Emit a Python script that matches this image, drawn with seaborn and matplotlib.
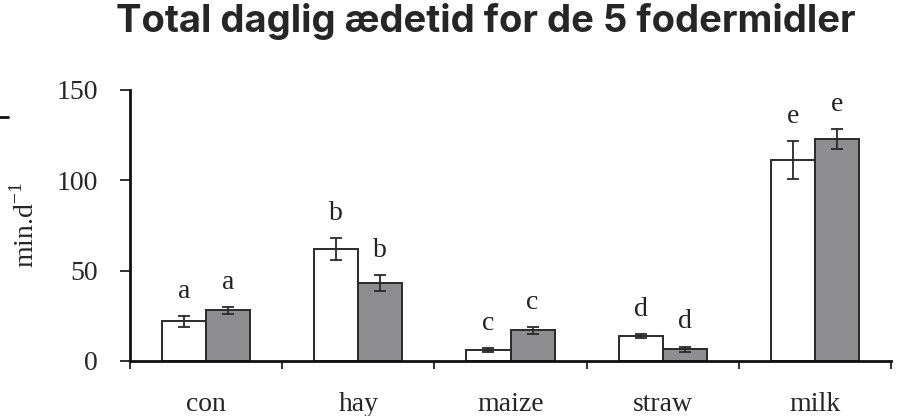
import matplotlib
matplotlib.use("Agg")
import matplotlib.pyplot as plt
import seaborn as sns
import pandas as pd
import numpy as np

categories = ["con", "hay", "maize", "straw", "milk"]
groups = ["A", "B"]
values_a = [22, 62, 6, 14, 111]
values_b = [28, 43, 17, 6.5, 123]
err_a = [3, 6, 1, 1, 10.5]
err_b = [2, 4.5, 2, 1.5, 5.5]
letters = ["a", "b", "c", "d", "e"]
yticks = [0, 50, 100, 150]

sns.set_style("white")
serif = ["Liberation Serif", "DejaVu Serif"]

df = pd.DataFrame({
    "cat": categories * 2,
    "grp": [groups[0]] * 5 + [groups[1]] * 5,
    "val": values_a + values_b,
    "err": err_a + err_b,
})

fig = plt.figure(figsize=(9.02, 4.16), dpi=100)
ax = fig.add_axes([130/902, 1-361/416, (891-130)/902, (361-90)/416])

sns.barplot(data=df, x="cat", y="val", hue="grp", order=categories, hue_order=groups,
            palette={"A": "white", "B": "#8e8e90"}, errorbar=None, width=0.58,
            edgecolor="#2a2a2a", linewidth=1.4, legend=False, ax=ax)

patches = list(ax.patches)[:10]
for i, p in enumerate(patches):
    g, c = divmod(i, 5)
    v = (values_a if g == 0 else values_b)[c]
    e = (err_a if g == 0 else err_b)[c]
    xc = p.get_x() + p.get_width() / 2
    ax.errorbar(xc, v, yerr=e, fmt="none", ecolor="#2a2a2a", elinewidth=1.3,
                capsize=4, capthick=1.3)
    ax.text(xc, v + e + 10, letters[c], ha="center", va="baseline",
            fontsize=20, family=serif, color="#222222")

ax.set_ylim(0, 150)
ax.set_xlim(-0.5, 4.5)
ax.set_yticks(yticks)
ax.set_yticklabels([str(t) for t in yticks], fontsize=20, family=serif)
ax.set_xticks(range(5))
ax.set_xticklabels(categories, fontsize=20, family=serif)
ax.set_xticks(np.arange(-0.5, 5, 1), minor=True)
ax.tick_params(axis="x", which="major", length=0, pad=22)
ax.tick_params(axis="x", which="minor", length=6, width=1.3, color="#222222", direction="out", bottom=True)
ax.tick_params(axis="y", length=7, width=1.3, color="#222222", direction="out", left=True, pad=16)
ax.set_xlabel("")
ax.set_ylabel("min.d$^{\\mathregular{-1}}$", fontsize=20, family=serif, labelpad=12)
for s in ["top", "right"]:
    ax.spines[s].set_visible(False)
for s in ["left", "bottom"]:
    ax.spines[s].set_color("#111111")
    ax.spines[s].set_linewidth(2)

fig.text(486/902, 1-22/416, "Total daglig ædetid for de 5 fodermidler", ha="center", va="center",
         fontsize=27.5, fontweight="bold", family=["Inter", "DejaVu Sans"])
fig.add_artist(plt.Line2D([0, 8/902], [1-117/416, 1-117/416], color="#111111", lw=2))

fig.savefig("out.png", dpi=100)
